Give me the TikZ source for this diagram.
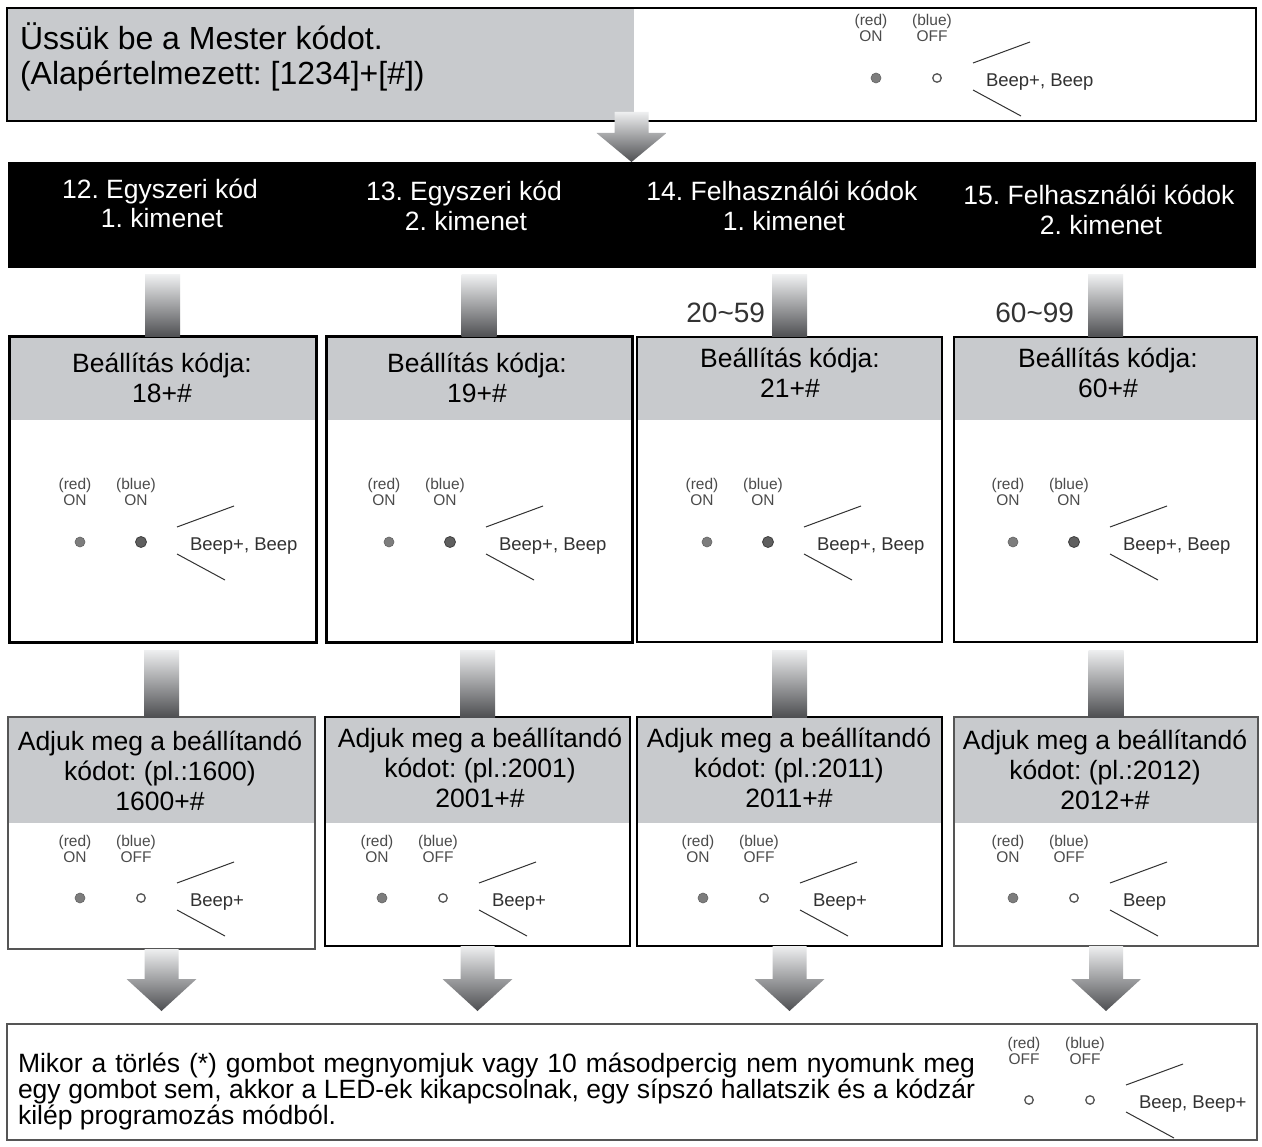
\documentclass[tikz,border=0pt]{standalone}
\usepackage{fontspec}
\setmainfont{Liberation Sans}
\frenchspacing
\usetikzlibrary{calc}
\pgfdeclarelayer{background}
\pgfsetlayers{background,main}
\definecolor{hdrgray}{RGB}{200,202,205}
\definecolor{arrtop}{RGB}{238,239,240}
\definecolor{arrbot}{RGB}{78,79,82}
\definecolor{lblcol}{RGB}{75,75,75}
\definecolor{beepcol}{RGB}{50,50,50}
\definecolor{ledon}{RGB}{125,125,125}
\definecolor{ledblue}{RGB}{95,95,95}
\definecolor{ledrim}{RGB}{85,85,85}
\definecolor{boxgray}{RGB}{85,85,85}
\newcommand\fsz[1]{\fontsize{#1}{#1}\selectfont}
\tikzset{
 every node/.style={inner sep=0pt, outer sep=0pt},
 boxthin/.style={draw=black, line width=1.5pt, anchor=north west},
 boxthick/.style={draw=black, line width=3pt, anchor=north west},
 boxgrayb/.style={draw=boxgray, line width=2pt, anchor=north west},
 hdr/.style={fill=hdrgray},
 bigtxt/.style={font=\fsz{32}, anchor=base west},
 bandtxt/.style={font=\fsz{26.5}, text=white, anchor=base},
 boxtxt/.style={font=\fsz{26.5}, text=black, anchor=base},
 rangetxt/.style={font=\fsz{28}, text=black!80, anchor=base east},
 lbl/.style={font=\fsz{15.5}, text=lblcol, anchor=base},
 beeptxt/.style={font=\fsz{18.5}, text=beepcol, anchor=base west},
 beepline/.style={draw=beepcol, line width=1pt},
 dotred/.style={circle, fill=ledon, draw=ledon!80!black, line width=0.6pt, minimum size=10pt},
 dotblue/.style={circle, fill=ledblue, draw=black!75, line width=0.8pt, minimum size=11pt},
 dotoff/.style={circle, fill=white, draw=ledrim, line width=1.3pt, minimum size=8.5pt},
 arrowshade/.style={top color=arrtop, bottom color=arrbot, draw=none},
}
\newcommand\leds[8]{%
 \node[lbl] (#1rl) at (#2-5,#3-52) {(red)};
 \node[lbl] (#1rs) at (#2-5,#3-36) {#4};
 \node[lbl] (#1bl) at (#2+56,#3-52) {(blue)};
 \node[lbl] (#1bs) at (#2+56,#3-36) {#5};
 \node[#6] (#1rd) at (#2,#3) {};
 \node[#7] (#1bd) at (#2+61,#3) {};
 \draw[beepline] (#2+97,#3-15) -- (#2+154,#3-36);
 \draw[beepline] (#2+97,#3+12) -- (#2+145,#3+38);
 \node[beeptxt] (#1bp) at (#2+110,#3+8.5) {#8};
}
\newcommand\shaft[3]{\shade[arrowshade] let \p1=(#2.north), \p2=(#1.south) in (\x1-17.5pt,\y2-#3pt) rectangle (\x1+17.5pt,\y1);}
\newcommand\harrow[5]{\shade[arrowshade] let \p1=(#1.south), \p2=(#2.north) in
 (\x1-17pt,\y1+#3pt) -- (\x1+17pt,\y1+#3pt) -- (\x1+17pt,\y2+#5pt+#4pt) -- (\x1+35pt,\y2+#5pt+#4pt) -- (\x1,\y2+#5pt) -- (\x1-35pt,\y2+#5pt+#4pt) -- (\x1-17pt,\y2+#5pt+#4pt) -- cycle;}
\begin{document}
\begin{tikzpicture}[x=1pt,y=-1pt]
\useasboundingbox (0,0) rectangle (1262,1147);

% boxes
\node[boxthin, minimum width=1249pt, minimum height=113pt] (top) at (7,8) {};
\node[fill=black, minimum width=1248pt, minimum height=106pt, anchor=north west] (band) at (8,162) {};
\node[boxthick, minimum width=307pt, minimum height=305pt] (r1c1) at (9,337) {};
\node[boxthick, minimum width=306pt, minimum height=305pt] (r1c2) at (326,337) {};
\node[boxthin, minimum width=305pt, minimum height=305pt] (r1c3) at (637,337) {};
\node[boxthin, minimum width=303pt, minimum height=305pt] (r1c4) at (954,337) {};
\node[boxgrayb, minimum width=307pt, minimum height=232pt] (r2c1) at (8,717) {};
\node[boxthin, minimum width=305pt, minimum height=229pt] (r2c2) at (325,717) {};
\node[boxthin, minimum width=305pt, minimum height=229pt] (r2c3) at (637,717) {};
\node[boxgrayb, minimum width=304pt, minimum height=229pt] (r2c4) at (954,717) {};
\node[boxthin, draw=boxgray, minimum width=1250pt, minimum height=116pt] (bot) at (7,1024) {};

\begin{pgfonlayer}{background}
\fill[white] (0,0) rectangle (1262,1147);
\fill[hdr] (top.north west) rectangle ($(top.south west)+(627,0)$);
\foreach \b in {r1c1,r1c2,r1c3,r1c4}{\fill[hdr] (\b.north west) rectangle ($(\b.north east)+(0,83)$);}
\foreach \b in {r2c1,r2c2,r2c3,r2c4}{\fill[hdr] (\b.north west) rectangle ($(\b.north east)+(0,106)$);}
\end{pgfonlayer}

% connectors
\harrow{top}{band}{9}{29}{0}
\shaft{band}{r1c1}{7}
\shaft{band}{r1c2}{7}
\shaft{band}{r1c3}{7}
\shaft{band}{r1c4}{7}
\shaft{r1c1}{r2c1}{8}
\shaft{r1c2}{r2c2}{8}
\shaft{r1c3}{r2c3}{8}
\shaft{r1c4}{r2c4}{8}
\harrow{r2c1}{bot}{0}{32}{13}
\harrow{r2c2}{bot}{0}{32}{13}
\harrow{r2c3}{bot}{0}{32}{13}
\harrow{r2c4}{bot}{0}{32}{13}

% top text
\node[bigtxt] (t1) at (20,50) {Üssük be a Mester kódot.};
\node[bigtxt] (t2) at (20,85) {(Alapértelmezett: [1234]+[\#])};
\leds{tl}{876}{78}{ON}{OFF}{dotred}{dotoff}{Beep+, Beep}

% band text
\node[bandtxt] (b1a) at (160,199) {12. Egyszeri kód};
\node[bandtxt] (b1b) at (162,228) {1. kimenet};
\node[bandtxt] (b2a) at (464,201) {13. Egyszeri kód};
\node[bandtxt] (b2b) at (466,231) {2. kimenet};
\node[bandtxt] (b3a) at (782,201) {14. Felhasználói kódok};
\node[bandtxt] (b3b) at (784,231) {1. kimenet};
\node[bandtxt] (b4a) at (1099,205) {15. Felhasználói kódok};
\node[bandtxt] (b4b) at (1101,235) {2. kimenet};

% ranges
\node[rangetxt] (rg1) at (765,323) {20\textasciitilde 59};
\node[rangetxt] (rg2) at (1074,323) {60\textasciitilde 99};

% row 1
\node[boxtxt] (h1a) at (162,373) {Beállítás kódja:};
\node[boxtxt] (h1b) at (162,403) {18+\#};
\node[boxtxt] (h2a) at (477,373) {Beállítás kódja:};
\node[boxtxt] (h2b) at (477,403) {19+\#};
\node[boxtxt] (h3a) at (790,368) {Beállítás kódja:};
\node[boxtxt] (h3b) at (790,398) {21+\#};
\node[boxtxt] (h4a) at (1108,368) {Beállítás kódja:};
\node[boxtxt] (h4b) at (1108,398) {60+\#};
\leds{ra}{80}{542}{ON}{ON}{dotred}{dotblue}{Beep+, Beep}
\leds{rb}{389}{542}{ON}{ON}{dotred}{dotblue}{Beep+, Beep}
\leds{rc}{707}{542}{ON}{ON}{dotred}{dotblue}{Beep+, Beep}
\leds{rd}{1013}{542}{ON}{ON}{dotred}{dotblue}{Beep+, Beep}

% row 2
\node[boxtxt] (k1a) at (160,750) {Adjuk meg a beállítandó};
\node[boxtxt] (k1b) at (160,780) {kódot: (pl.:1600)};
\node[boxtxt] (k1c) at (160,810) {1600+\#};
\node[boxtxt] (k2a) at (480,747) {Adjuk meg a beállítandó};
\node[boxtxt] (k2b) at (480,777) {kódot: (pl.:2001)};
\node[boxtxt] (k2c) at (480,807) {2001+\#};
\node[boxtxt] (k3a) at (789,747) {Adjuk meg a beállítandó};
\node[boxtxt] (k3b) at (789,777) {kódot: (pl.:2011)};
\node[boxtxt] (k3c) at (789,807) {2011+\#};
\node[boxtxt] (k4a) at (1105,749) {Adjuk meg a beállítandó};
\node[boxtxt] (k4b) at (1105,779) {kódot: (pl.:2012)};
\node[boxtxt] (k4c) at (1105,809) {2012+\#};
\leds{sa}{80}{898}{ON}{OFF}{dotred}{dotoff}{Beep+}
\leds{sb}{382}{898}{ON}{OFF}{dotred}{dotoff}{Beep+}
\leds{sc}{703}{898}{ON}{OFF}{dotred}{dotoff}{Beep+}
\leds{sd}{1013}{898}{ON}{OFF}{dotred}{dotoff}{Beep}

% bottom
\node[boxtxt, anchor=base west] (m1) at (18,1072) {\makebox[957pt][s]{Mikor a törlés (*) gombot megnyomjuk vagy 10 másodpercig nem nyomunk meg}};
\node[boxtxt, anchor=base west] (m2) at (18,1098) {\makebox[957pt][s]{egy gombot sem, akkor a LED-ek kikapcsolnak, egy sípszó hallatszik és a kódzár}};
\node[boxtxt, anchor=base west] (m3) at (18,1124) {kilép programozás módból.};
\leds{bt}{1029}{1100}{OFF}{OFF}{dotoff}{dotoff}{Beep, Beep+}
\end{tikzpicture}
\end{document}
